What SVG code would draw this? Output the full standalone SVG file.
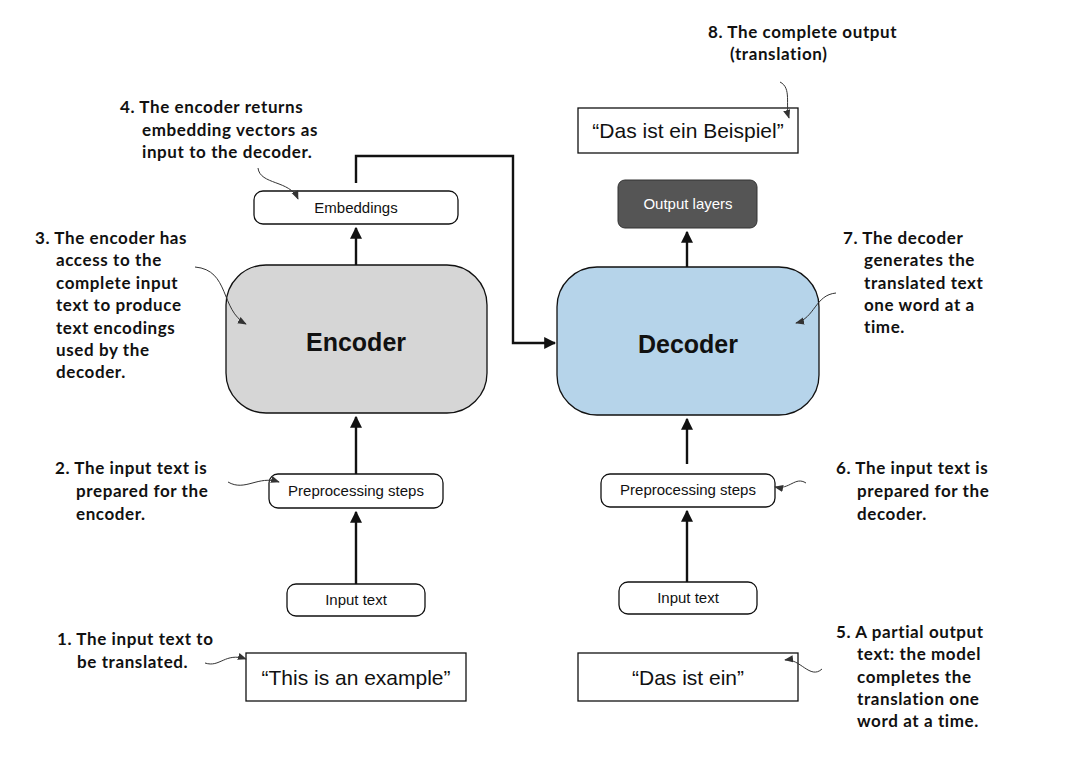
<svg xmlns="http://www.w3.org/2000/svg" width="1079" height="762" viewBox="0 0 1079 762">
<style>
.box{fill:#fff;stroke:#111;stroke-width:1.3}
.sq{fill:#fff;stroke:#111;stroke-width:1.3}
.t{font-family:"Liberation Sans",Arial,sans-serif;font-size:15px;fill:#111;text-anchor:middle}
.big{font-family:"Liberation Sans",Arial,sans-serif;font-size:21px;fill:#111;text-anchor:middle}
.h{font-family:"Liberation Sans",Arial,sans-serif;font-size:25px;font-weight:bold;fill:#111;text-anchor:middle}
.a{font-family:Lato,"Open Sans",sans-serif;font-size:17px;font-weight:bold;fill:#111;letter-spacing:0.6px}
.c{fill:none;stroke:#111;stroke-width:2.4}
.n{fill:none;stroke:#333;stroke-width:1}
</style>
<defs>
<marker id="ah" viewBox="0 0 10 10" refX="9" refY="5" markerWidth="5" markerHeight="5" orient="auto"><path d="M0,0L10,5L0,10z" fill="#111"/></marker>
<marker id="sh" viewBox="0 0 10 10" refX="9" refY="5" markerWidth="9" markerHeight="9" markerUnits="userSpaceOnUse" orient="auto"><path d="M0,1L10,5L0,9z" fill="#333"/></marker>
</defs>
<rect width="1079" height="762" fill="#fff"/>
<g id="connectors">
<path class="c" d="M356,584V512" marker-end="url(#ah)"/>
<path class="c" d="M356,474V417" marker-end="url(#ah)"/>
<path class="c" d="M356,310V228" marker-end="url(#ah)"/>
<path class="c" d="M356,183V156H513V343H555" marker-end="url(#ah)" stroke-width="2"/>
<path class="c" d="M687,582V511" marker-end="url(#ah)"/>
<path class="c" d="M687,464V419" marker-end="url(#ah)"/>
<path class="c" d="M687,309V232" marker-end="url(#ah)"/>
</g>
<g id="embeddings"><rect class="box" x="254" y="191" width="204" height="33" rx="9"/><text class="t" x="356" y="213">Embeddings</text></g>
<g id="encoder"><rect x="226" y="265" width="261" height="148" rx="40" fill="#d6d6d6" stroke="#111" stroke-width="1.3"/><text class="h" x="356" y="351">Encoder</text></g>
<g id="decoder"><rect x="557" y="267" width="262" height="148" rx="40" fill="#b6d4ea" stroke="#111" stroke-width="1.3"/><text class="h" x="688" y="353">Decoder</text></g>
<g id="output-layers"><rect x="618" y="180" width="139" height="48" rx="7" fill="#555" stroke="#333"/><text class="t" x="688" y="209" style="fill:#fff">Output layers</text></g>
<g id="output-text"><rect class="sq" x="578" y="108" width="220" height="45"/><text class="big" x="688" y="138">“Das ist ein Beispiel”</text></g>
<g id="pre-left"><rect class="box" x="269" y="474" width="174" height="34" rx="9"/><text class="t" x="356" y="496">Preprocessing steps</text></g>
<g id="pre-right"><rect class="box" x="601" y="474" width="174" height="33" rx="9"/><text class="t" x="688" y="495">Preprocessing steps</text></g>
<g id="input-left"><rect class="box" x="287" y="584" width="138" height="32" rx="9"/><text class="t" x="356" y="605">Input text</text></g>
<g id="input-right"><rect class="box" x="619" y="582" width="138" height="32" rx="9"/><text class="t" x="688" y="603">Input text</text></g>
<g id="example"><rect class="sq" x="246" y="653" width="220" height="48"/><text class="big" x="356" y="685">“This is an example”</text></g>
<g id="partial"><rect class="sq" x="578" y="653" width="220" height="48"/><text class="big" x="688" y="685">“Das ist ein”</text></g>
<g id="callouts">
<path class="n" d="M205,663C220,668 225,652 246,659" marker-end="url(#sh)"/>
<path class="n" d="M228,482C245,492 258,475 279,482" marker-end="url(#sh)"/>
<path class="n" d="M195,267C230,270 220,310 246,324" marker-end="url(#sh)"/>
<path class="n" d="M258,168C260,185 290,180 298,199" marker-end="url(#sh)"/>
<path class="n" d="M822,669C810,680 800,658 785,660" marker-end="url(#sh)"/>
<path class="n" d="M806,483C795,476 790,490 775,487" marker-end="url(#sh)"/>
<path class="n" d="M836,293C815,295 815,318 796,323" marker-end="url(#sh)"/>
<path class="n" d="M780,82C792,88 785,105 789,118" marker-end="url(#sh)"/>
</g>
<g id="annotations">
<text class="a" x="57" y="645">1. The input text to</text><text class="a" x="77" y="668">be translated.</text>
<text class="a" x="55" y="474">2. The input text is</text><text class="a" x="76" y="497">prepared for the</text><text class="a" x="76" y="520">encoder.</text>
<text class="a" x="35" y="244">3. The encoder has</text><text class="a" x="56" y="266">access to the</text><text class="a" x="56" y="289">complete input</text><text class="a" x="56" y="311">text to produce</text><text class="a" x="56" y="334">text encodings</text><text class="a" x="56" y="356">used by the</text><text class="a" x="56" y="378">decoder.</text>
<text class="a" x="120" y="113">4. The encoder returns</text><text class="a" x="142" y="136">embedding vectors as</text><text class="a" x="142" y="158">input to the decoder.</text>
<text class="a" x="836" y="638">5. A partial output</text><text class="a" x="857" y="660">text: the model</text><text class="a" x="857" y="683">completes the</text><text class="a" x="857" y="705">translation one</text><text class="a" x="857" y="727">word at a time.</text>
<text class="a" x="836" y="474">6. The input text is</text><text class="a" x="857" y="497">prepared for the</text><text class="a" x="857" y="520">decoder.</text>
<text class="a" x="843" y="244">7. The decoder</text><text class="a" x="864" y="266">generates the</text><text class="a" x="864" y="289">translated text</text><text class="a" x="864" y="311">one word at a</text><text class="a" x="864" y="333">time.</text>
<text class="a" x="708" y="38">8. The complete output</text><text class="a" x="730" y="60">(translation)</text>
</g>
</svg>
